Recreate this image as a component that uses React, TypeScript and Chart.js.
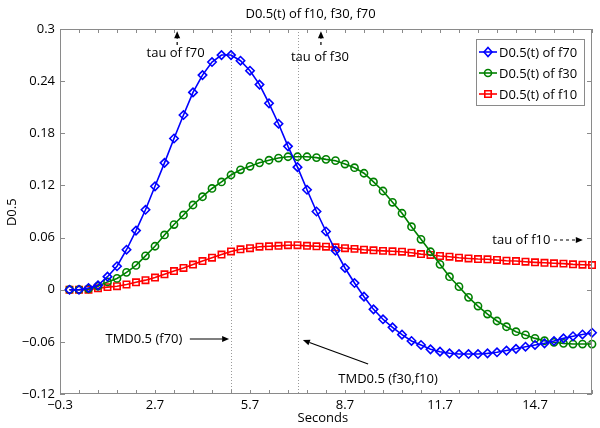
import React, { useEffect, useRef } from "react";
import { Chart, registerables } from "chart.js";

Chart.register(...registerables);

const times = [
  0, 0.3, 0.6, 0.9, 1.2, 1.5, 1.8, 2.1, 2.4, 2.7, 3.0, 3.3, 3.6, 3.9, 4.2, 4.5, 4.8, 5.1, 5.4, 5.7,
  6.0, 6.3, 6.6, 6.9, 7.2, 7.5, 7.8, 8.1, 8.4, 8.7, 9.0, 9.3, 9.6, 9.9, 10.2, 10.5, 10.8, 11.1, 11.4, 11.7,
  12.0, 12.3, 12.6, 12.9, 13.2, 13.5, 13.8, 14.1, 14.4, 14.7, 15.0, 15.3, 15.6, 15.9, 16.2, 16.5,
];

const f70 = [
  0, 0, 0.002, 0.005, 0.015, 0.027, 0.046, 0.068, 0.092, 0.119,
  0.146, 0.174, 0.201, 0.227, 0.247, 0.262, 0.270, 0.270, 0.2635, 0.252,
  0.236, 0.2145, 0.191, 0.165, 0.141, 0.115, 0.090, 0.067, 0.045, 0.025,
  0.0077, -0.008, -0.0226, -0.034, -0.0433, -0.0517, -0.059, -0.0636, -0.0686, -0.0713,
  -0.0732, -0.074, -0.074, -0.074, -0.0732, -0.072, -0.070, -0.068, -0.0656, -0.0636,
  -0.0617, -0.059, -0.056, -0.0535, -0.0515, -0.0495,
];

const f30 = [
  0, 0, 0.001, 0.004, 0.009, 0.013, 0.020, 0.028, 0.039, 0.050,
  0.063, 0.075, 0.086, 0.0975, 0.107, 0.1165, 0.124, 0.132, 0.138, 0.142,
  0.146, 0.149, 0.1515, 0.153, 0.153, 0.153, 0.152, 0.150, 0.1485, 0.1446,
  0.1404, 0.134, 0.124, 0.1136, 0.1006, 0.088, 0.0725, 0.058, 0.0437, 0.0292,
  0.015, 0.0035, -0.0088, -0.0188, -0.028, -0.036, -0.0426, -0.0483, -0.052, -0.056,
  -0.0587, -0.0605, -0.0617, -0.0625, -0.0625, -0.0625,
];

const f10 = [
  0, 0, 0, 0.0016, 0.003, 0.004, 0.006, 0.0085, 0.011, 0.014,
  0.0177, 0.0215, 0.025, 0.029, 0.033, 0.0368, 0.0405, 0.044, 0.0465, 0.0478,
  0.0495, 0.050, 0.0505, 0.0512, 0.0512, 0.0505, 0.050, 0.0495, 0.0488, 0.0478,
  0.047, 0.046, 0.0453, 0.0447, 0.0442, 0.0437, 0.0426, 0.041, 0.040, 0.0388,
  0.038, 0.0368, 0.036, 0.0353, 0.035, 0.0342, 0.0334, 0.033, 0.0322, 0.0315,
  0.031, 0.0304, 0.030, 0.0292, 0.0288, 0.0284,
];

const seriesNames = ["D0.5(t) of f70", "D0.5(t) of f30", "D0.5(t) of f10"];
const seriesColors = ["#0000ff", "#008000", "#ff0000"];
const seriesMarkers = ["diamond", "circle", "square"];

const xMajorTicks = [-0.3, 2.7, 5.7, 8.7, 11.7, 14.7];
const xTickLabels = ["\u22120.3", "2.7", "5.7", "8.7", "11.7", "14.7"];
const xMinorTicks = [
  -0.3, 0.3, 0.9, 1.5, 2.1, 2.7, 3.3, 3.9, 4.5, 5.1, 5.7, 6.3, 6.9, 7.5, 8.1,
  8.7, 9.3, 9.9, 10.5, 11.1, 11.7, 12.3, 12.9, 13.5, 14.1, 14.7, 15.3, 15.9, 16.5,
];
const yTicks = [-0.12, -0.06, 0, 0.06, 0.12, 0.18, 0.24, 0.3];
const yTickLabels = ["\u22120.12", "\u22120.06", "0", "0.06", "0.12", "0.18", "0.24", "0.3"];

const tmdTimes = [5.1, 7.2];

const titleText = "D0.5(t) of f10, f30, f70";
const xTitle = "Seconds";
const yTitle = "D0.5";

// annotations in data coordinates
const annotations = [
  { text: "tau of f70", tx: 3.35, ty: 0.2724, ax1: 3.4, ay1: 0.2816, ax2: 3.4, ay2: 0.2975, dashed: true },
  { text: "tau of f30", tx: 7.91, ty: 0.2678, ax1: 7.94, ay1: 0.2816, ax2: 7.94, ay2: 0.2975, dashed: true },
  { text: "tau of f10", tx: 14.27, ty: 0.0572, ax1: 15.3, ay1: 0.0572, ax2: 16.21, ay2: 0.0572, dashed: true },
  { text: "TMD0.5 (f70)", tx: 2.35, ty: -0.0567, ax1: 3.8, ay1: -0.0567, ax2: 5.04, ay2: -0.0567, dashed: false },
  { text: "TMD0.5 (f30,f10)", tx: 10.06, ty: -0.1028, ax1: 9.43, ay1: -0.0855, ax2: 7.37, ay2: -0.0579, dashed: false },
];

const FONT = '"Open Sans", "DejaVu Sans", sans-serif';
const AXIS_COLOR = "#8a8a8a";

function drawMarker(ctx: CanvasRenderingContext2D, kind: string, x: number, y: number, color: string) {
  ctx.save();
  ctx.strokeStyle = color;
  ctx.lineWidth = 1.6;
  ctx.beginPath();
  if (kind === "diamond") {
    ctx.moveTo(x, y - 4.5);
    ctx.lineTo(x + 4, y);
    ctx.lineTo(x, y + 4.5);
    ctx.lineTo(x - 4, y);
    ctx.closePath();
  } else if (kind === "circle") {
    ctx.arc(x, y, 3.5, 0, Math.PI * 2);
  } else {
    ctx.rect(x - 3.2, y - 3.2, 6.4, 6.4);
  }
  ctx.stroke();
  ctx.restore();
}

function drawArrow(ctx: CanvasRenderingContext2D, x1: number, y1: number, x2: number, y2: number, dashed: boolean) {
  const ang = Math.atan2(y2 - y1, x2 - x1);
  const headLen = 7;
  const headW = 3;
  const bx = x2 - Math.cos(ang) * headLen;
  const by = y2 - Math.sin(ang) * headLen;
  ctx.save();
  ctx.strokeStyle = "#000";
  ctx.fillStyle = "#000";
  ctx.lineWidth = 1.2;
  if (dashed) ctx.setLineDash([3, 3]);
  ctx.beginPath();
  ctx.moveTo(x1, y1);
  ctx.lineTo(bx, by);
  ctx.stroke();
  ctx.setLineDash([]);
  ctx.beginPath();
  ctx.moveTo(x2, y2);
  ctx.lineTo(bx + Math.sin(ang) * headW, by - Math.cos(ang) * headW);
  ctx.lineTo(bx - Math.sin(ang) * headW, by + Math.cos(ang) * headW);
  ctx.closePath();
  ctx.fill();
  ctx.restore();
}

const decorPlugin = {
  id: "decor",
  beforeDatasetsDraw(chart: any) {
    const { ctx, chartArea } = chart;
    const xs = chart.scales.x;
    ctx.save();
    ctx.strokeStyle = "#9a9a9a";
    ctx.lineWidth = 1;
    ctx.setLineDash([1, 2]);
    tmdTimes.forEach((t) => {
      const px = Math.round(xs.getPixelForValue(t)) + 0.5;
      ctx.beginPath();
      ctx.moveTo(px, chartArea.top);
      ctx.lineTo(px, chartArea.bottom);
      ctx.stroke();
    });
    ctx.restore();
  },
  afterDraw(chart: any) {
    const { ctx, chartArea } = chart;
    const xs = chart.scales.x;
    const ys = chart.scales.y;
    const { left, right, top, bottom } = chartArea;

    // box
    ctx.save();
    ctx.strokeStyle = AXIS_COLOR;
    ctx.lineWidth = 1;
    ctx.strokeRect(left + 0.5, top + 0.5, right - left - 1, bottom - top - 1);
    // x ticks
    ctx.beginPath();
    xMinorTicks.forEach((v) => {
      const px = Math.round(xs.getPixelForValue(v)) + 0.5;
      ctx.moveTo(px, bottom);
      ctx.lineTo(px, bottom - 4);
      ctx.moveTo(px, top);
      ctx.lineTo(px, top + 4);
    });
    yTicks.forEach((v) => {
      const py = Math.round(ys.getPixelForValue(v)) + 0.5;
      ctx.moveTo(left, py);
      ctx.lineTo(left + 5, py);
      ctx.moveTo(right, py);
      ctx.lineTo(right - 5, py);
    });
    ctx.stroke();
    ctx.restore();

    // titles
    ctx.save();
    ctx.fillStyle = "#000";
    ctx.font = `13px ${FONT}`;
    ctx.textAlign = "center";
    ctx.textBaseline = "middle";
    ctx.fillText(titleText, left + (right - left) * 0.471, top - 15);
    ctx.fillText(xTitle, left + (right - left) * 0.494, bottom + 24);
    ctx.save();
    ctx.translate(12, top + (bottom - top) * 0.502);
    ctx.rotate(-Math.PI / 2);
    ctx.fillText(yTitle, 0, 0);
    ctx.restore();

    // annotations
    annotations.forEach((a) => {
      ctx.fillText(a.text, xs.getPixelForValue(a.tx), ys.getPixelForValue(a.ty));
      drawArrow(
        ctx,
        xs.getPixelForValue(a.ax1),
        ys.getPixelForValue(a.ay1),
        xs.getPixelForValue(a.ax2),
        ys.getPixelForValue(a.ay2),
        a.dashed
      );
    });
    ctx.restore();

    // legend
    const bw = 108;
    const bh = 66;
    const bx = right - 8 - bw;
    const by = top + 10;
    ctx.save();
    ctx.fillStyle = "#fff";
    ctx.fillRect(bx, by, bw, bh);
    ctx.strokeStyle = AXIS_COLOR;
    ctx.lineWidth = 1;
    ctx.strokeRect(bx + 0.5, by + 0.5, bw, bh);
    ctx.font = `13px ${FONT}`;
    ctx.textAlign = "left";
    ctx.textBaseline = "middle";
    seriesNames.forEach((name, i) => {
      const ry = by + 13 + i * 21;
      ctx.strokeStyle = seriesColors[i];
      ctx.lineWidth = 1.6;
      ctx.beginPath();
      ctx.moveTo(bx + 3, ry);
      ctx.lineTo(bx + 21, ry);
      ctx.stroke();
      drawMarker(ctx, seriesMarkers[i], bx + 12, ry, seriesColors[i]);
      ctx.fillStyle = "#000";
      ctx.fillText(name, bx + 23, ry + 1);
    });
    ctx.restore();
  },
};

export default function App() {
  const ref = useRef<HTMLCanvasElement | null>(null);

  useEffect(() => {
    document.body.style.margin = "0";
    const canvas = ref.current;
    if (!canvas) return;
    const mk = (vals: number[]) => times.map((t, i) => ({ x: t, y: vals[i] }));
    const chart = new Chart(canvas, {
      type: "line",
      data: {
        datasets: [
          {
            label: seriesNames[0],
            data: mk(f70),
            borderColor: seriesColors[0],
            backgroundColor: "rgba(0,0,0,0)",
            borderWidth: 1.6,
            pointStyle: "rectRot",
            pointRadius: 4.2,
            pointBorderWidth: 1.6,
            pointBorderColor: seriesColors[0],
            pointBackgroundColor: "rgba(0,0,0,0)",
            tension: 0,
            clip: false as any,
          },
          {
            label: seriesNames[1],
            data: mk(f30),
            borderColor: seriesColors[1],
            backgroundColor: "rgba(0,0,0,0)",
            borderWidth: 1.6,
            pointStyle: "circle",
            pointRadius: 3.6,
            pointBorderWidth: 1.6,
            pointBorderColor: seriesColors[1],
            pointBackgroundColor: "rgba(0,0,0,0)",
            tension: 0,
            clip: false as any,
          },
          {
            label: seriesNames[2],
            data: mk(f10),
            borderColor: seriesColors[2],
            backgroundColor: "rgba(0,0,0,0)",
            borderWidth: 1.6,
            pointStyle: "rect",
            pointRadius: 4.5,
            pointBorderWidth: 1.6,
            pointBorderColor: seriesColors[2],
            pointBackgroundColor: "rgba(0,0,0,0)",
            tension: 0,
            clip: false as any,
          },
        ],
      },
      options: {
        responsive: false,
        animation: false,
        devicePixelRatio: 1,
        layout: { padding: { top: 29, right: 8, left: 0, bottom: 0 } },
        plugins: {
          legend: { display: false },
          tooltip: { enabled: false },
          title: { display: false },
        },
        scales: {
          x: {
            type: "linear",
            min: -0.3,
            max: 16.5,
            afterBuildTicks: (s: any) => {
              s.ticks = xMajorTicks.map((v) => ({ value: v }));
            },
            afterFit: (s: any) => {
              s.height = 34;
            },
            ticks: {
              autoSkip: false,
              maxRotation: 0,
              padding: 3,
              color: "#000",
              font: { family: FONT, size: 13 },
              callback: (_v: any, i: number) => xTickLabels[i],
            },
            grid: { display: false, drawTicks: false },
            border: { display: false },
          },
          y: {
            type: "linear",
            min: -0.12,
            max: 0.3,
            afterBuildTicks: (s: any) => {
              s.ticks = yTicks.map((v) => ({ value: v }));
            },
            afterFit: (s: any) => {
              s.width = 60;
            },
            ticks: {
              autoSkip: false,
              padding: 5,
              color: "#000",
              font: { family: FONT, size: 13 },
              callback: (_v: any, i: number) => yTickLabels[i],
            },
            grid: { display: false, drawTicks: false },
            border: { display: false },
          },
        },
      },
      plugins: [decorPlugin],
    });
    return () => chart.destroy();
  }, []);

  return (
    <div style={{ position: "absolute", left: 0, top: 0 }}>
      <canvas ref={ref} width={600} height={428} style={{ display: "block", width: 600, height: 428 }} />
    </div>
  );
}
